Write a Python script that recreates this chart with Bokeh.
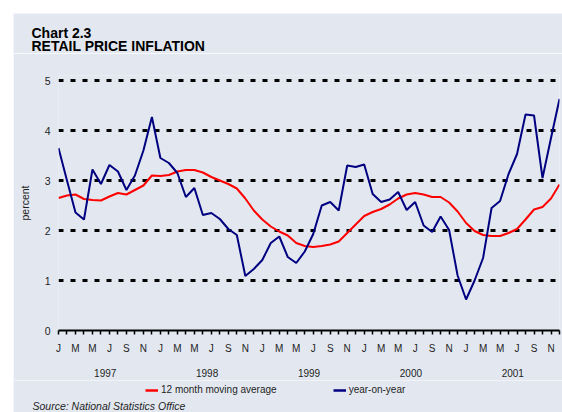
from bokeh.plotting import figure
from bokeh.layouts import column
from bokeh.models import Range1d, FixedTicker, Legend, LegendItem, LinearAxis, Label
from bokeh.embed import file_html
from bokeh.resources import INLINE

# ---- data -------------------------------------------------------------
months = list(range(60))  # Jan 1997 .. Dec 2001
month_letters = ["J", "F", "M", "A", "M", "J", "J", "A", "S", "O", "N", "D"]
tick_labels = [month_letters[i % 12] if i % 2 == 0 else "" for i in months]
years = ["1997", "1998", "1999", "2000", "2001"]
year_centers = [5.5, 17.5, 29.5, 41.5, 53.5]
y_ticks = [0, 1, 2, 3, 4, 5]

year_on_year = [
    3.65, 3.00, 2.36, 2.22, 3.22, 2.93, 3.31, 3.18, 2.81, 3.10, 3.60, 4.27,
    3.45, 3.35, 3.15, 2.67, 2.85, 2.31, 2.35, 2.23, 2.03, 1.91, 1.09, 1.23,
    1.41, 1.75, 1.88, 1.47, 1.35, 1.58, 1.93, 2.50, 2.57, 2.40, 3.30, 3.27,
    3.32, 2.73, 2.57, 2.62, 2.77, 2.41, 2.57, 2.10, 1.97, 2.28, 2.01, 1.10,
    0.62, 1.00, 1.45, 2.45, 2.59, 3.13, 3.53, 4.32, 4.30, 3.05, 3.85, 4.63,
]
moving_avg = [
    2.65, 2.70, 2.72, 2.63, 2.61, 2.60, 2.68, 2.75, 2.72, 2.81, 2.90, 3.10,
    3.09, 3.11, 3.18, 3.21, 3.21, 3.16, 3.07, 3.00, 2.93, 2.84, 2.64, 2.40,
    2.22, 2.08, 1.98, 1.90, 1.75, 1.69, 1.67, 1.69, 1.72, 1.78, 1.95, 2.12,
    2.29, 2.37, 2.43, 2.52, 2.64, 2.72, 2.75, 2.72, 2.67, 2.67, 2.56, 2.38,
    2.15, 1.99, 1.91, 1.89, 1.89, 1.95, 2.03, 2.22, 2.42, 2.47, 2.64, 2.92,
]
series_names = ["12 month moving average", "year-on-year"]
series_colors = ["#FF0000", "#000080"]

# ---- style ------------------------------------------------------------
BG = "#E3E8F0"
TXT = "#1e1e1e"
FONT = "Liberation Sans"
W = 549


def no_align(f):
    try:
        f.frame_align = False
    except Exception:
        pass


def blank_fig(h):
    f = figure(width=W, height=h, output_backend="svg", toolbar_location=None,
               x_axis_location=None, y_axis_location=None,
               x_range=Range1d(0, W), y_range=Range1d(0, h),
               min_border=0, min_border_left=0, min_border_right=0,
               min_border_top=0, min_border_bottom=0,
               background_fill_color=BG, border_fill_color=BG,
               outline_line_color=None)
    for g in f.grid:
        g.visible = False
    no_align(f)
    return f


# ---- header -----------------------------------------------------------
header = blank_fig(40)
for txt, yy in [("Chart 2.3", 21), ("RETAIL PRICE INFLATION", 8)]:
    header.add_layout(Label(x=18, y=yy, x_units="screen", y_units="screen", text=txt,
                            text_font=FONT, text_font_size="14px", text_font_style="bold",
                            text_color="black", text_baseline="middle"))

# ---- main chart -------------------------------------------------------
p = figure(
    width=W, height=327, output_backend="svg", toolbar_location=None,
    x_range=Range1d(0, 59), y_range=Range1d(0, 5.1),
    min_border_left=45, min_border_right=3, min_border_top=22, min_border_bottom=50,
    background_fill_color=BG, border_fill_color=BG, outline_line_color=None,
)
no_align(p)

# y axis
p.yaxis.ticker = FixedTicker(ticks=y_ticks)
p.yaxis.axis_line_color = None
p.yaxis.major_tick_out = 0
p.yaxis.major_tick_in = 0
p.yaxis.minor_tick_out = 0
p.yaxis.minor_tick_in = 0
p.yaxis.major_label_standoff = 8
p.yaxis.major_label_text_font = FONT
p.yaxis.major_label_text_font_size = "10.5px"
p.yaxis.major_label_text_color = TXT
p.yaxis.axis_label = "percent"
p.yaxis.axis_label_standoff = 11
p.yaxis.axis_label_text_font = FONT
p.yaxis.axis_label_text_font_size = "10.5px"
p.yaxis.axis_label_text_font_style = "normal"
p.yaxis.axis_label_text_color = TXT

# x axis (months)
p.xaxis.ticker = FixedTicker(ticks=months)
p.xaxis.major_label_overrides = {m: lab for m, lab in zip(months, tick_labels)}
p.xaxis.axis_line_width = 2
p.xaxis.axis_line_color = "black"
p.xaxis.major_tick_out = 4
p.xaxis.major_tick_in = 0
p.xaxis.major_tick_line_width = 1.5
p.xaxis.major_tick_line_color = "black"
p.xaxis.minor_tick_out = 0
p.xaxis.minor_tick_in = 0
p.xaxis.major_label_standoff = 8
p.xaxis.major_label_text_font = FONT
p.xaxis.major_label_text_font_size = "10px"
p.xaxis.major_label_text_color = TXT

# second x axis (years)
year_axis = LinearAxis(
    ticker=FixedTicker(ticks=year_centers),
    major_label_overrides={c: y for c, y in zip(year_centers, years)},
    axis_line_color=None, major_tick_out=0, major_tick_in=0,
    minor_tick_out=0, minor_tick_in=0, major_label_standoff=12,
    major_label_text_font=FONT, major_label_text_font_size="10px",
    major_label_text_color=TXT,
)
p.add_layout(year_axis, "below")

# grid
p.xgrid.visible = False
p.ygrid.ticker = FixedTicker(ticks=y_ticks[1:])
p.ygrid.grid_line_color = "black"
p.ygrid.grid_line_width = 3
p.ygrid.grid_line_dash = "5 7"

# series
p.line(months, moving_avg, line_color=series_colors[0], line_width=2)
p.line(months, year_on_year, line_color=series_colors[1], line_width=2)

# ---- footer: legend + source -----------------------------------------
footer = blank_fig(32)
nan = float("nan")
key_renderers = [footer.line(x=[nan], y=[nan], line_color=c, line_width=2.5)
                 for c in series_colors]
legend = Legend(
    items=[LegendItem(label=n, renderers=[r]) for n, r in zip(series_names, key_renderers)],
    orientation="horizontal", location=(132, 17),
    background_fill_alpha=0, border_line_color=None,
    padding=0, margin=0, spacing=56,
    glyph_width=13, glyph_height=10, label_standoff=3,
    label_text_font=FONT, label_text_font_size="10px", label_text_color=TXT,
    label_height=10,
)
footer.add_layout(legend)
footer.add_layout(Label(x=19, y=7, x_units="screen", y_units="screen",
                        text="Source: National Statistics Office", text_font=FONT,
                        text_font_size="10.5px", text_font_style="italic",
                        text_color=TXT, text_baseline="middle"))

page = column(header, p, footer, spacing=0, margin=(13, 0, 0, 13))
open("out.html", "w").write(file_html(page, INLINE))
